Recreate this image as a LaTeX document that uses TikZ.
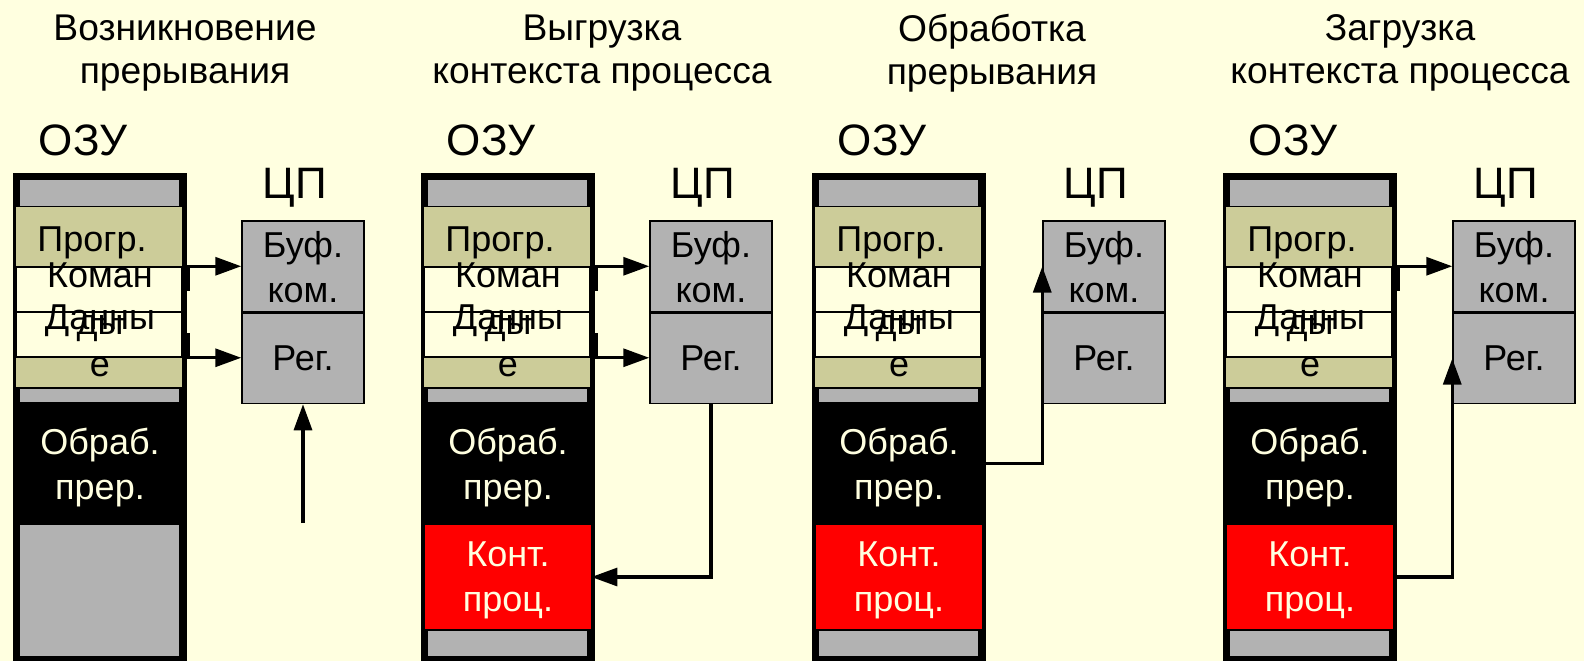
\documentclass[tikz,border=0pt]{standalone}
\usepackage{fontspec}
\setmainfont{Liberation Sans}
\usepackage{tikz}
\usetikzlibrary{positioning,calc,arrows.meta}

\definecolor{paper}{HTML}{FFFFE0}
\definecolor{memgray}{HTML}{B2B2B2}
\definecolor{khaki}{HTML}{CCCC99}

\tikzset{
  txt/.style={font=\fontsize{18}{22.5}\selectfont, align=center, inner sep=0pt, text depth=0pt},
  title/.style={txt, font=\fontsize{18.6}{21.5}\selectfont},
  two/.style={txt, font=\fontsize{18}{23.5}\selectfont},
  big/.style={font=\fontsize{22}{26}\selectfont, inner sep=0pt},
  band/.style={draw, line width=0.75pt, fill=paper, minimum width=83pt, minimum height=22.5pt, inner sep=0pt},
  cpubox/.style={txt, draw, line width=0.75pt, fill=memgray, minimum width=61pt},
  ctxbox/.style={txt, fill=red, text=paper, minimum width=83pt, minimum height=52pt},
  hndbox/.style={txt, fill=black, text=paper, minimum width=87pt, minimum height=61.5pt},
  arr/.style={-{Triangle[length=13pt,width=9pt]}, line width=1.6pt},
}

\begin{document}
\begin{tikzpicture}[x=0.5pt,y=-0.5pt]
    \fill[paper] (0,0) rectangle (1584,661);
    \useasboundingbox (0,0) rectangle (1584,661);

    % Titles
    \node[title] (t1) at (185,49.5) {Возникновение\\прерывания};
    \node[title] (t2) at (602,49.5) {Выгрузка\\контекста процесса};
    \node[title] (t3) at (992,49.5) {Обработка\\прерывания};
    \node[title] (t4) at (1400,49.5) {Загрузка\\контекста процесса};

    % RAM
    \foreach \L/\n in {13/1,421/2,812/3,1223/4}{
        \fill (\L,173) rectangle (\L+174,661);
        \fill[memgray] (\L+7,180) rectangle (\L+166,206);
        \fill[khaki] (\L+3,207) rectangle (\L+169,387);
        \node[band] (cmd\n) at (\L+86,289.5) {};
        \node[band] (dat\n) at (\L+86,334.5) {};
        \fill[memgray] (\L+7,389) rectangle (\L+166,402);
        \fill[memgray] (\L+7,631) rectangle (\L+166,656);
        \node[hndbox] (hnd\n) at (\L+87,463.5) {Обраб.\\прер.};
        \node[txt, anchor=base] (prg\n) at (\L+79,251) {Прогр.};
        \node[two] (cmdt\n) at (\L+87,298.5) {Коман\\ды};
        \node[two] (datt\n) at (\L+87,341) {Данны\\е};
        \node[big, anchor=base] (ram\n) at (\L+70,155) {ОЗУ};
    }
    \fill[memgray] (20,525) rectangle (179,656);
    \foreach \L/\n in {421/2,812/3,1223/4}
        \node[ctxbox] (ctx\n) at (\L+87,577) {Конт.\\проц.};

    % CPU
    \foreach \C/\n in {242/1,650/2,1043/3,1453/4}{
        \node[cpubox, minimum height=45.5pt] (buf\n) at (\C+61,266.5) {Буф.\\ком.};
        \node[cpubox, minimum height=45pt, below=0pt of buf\n] (reg\n) {Рег.};
        \node[big, anchor=base] (cpu\n) at (\C+53,198) {ЦП};
    }

    % Interrupt
    \coordinate (irq) at (303,523);
    \draw[arr] (irq) -- (reg1.south);
    \draw[arr] (cmd1.east) -- ++(6,0) |- (buf1.west |- cmd1.north);
    \draw[arr] (dat1.east) -- ++(6,0) |- (reg1.west |- dat1.south);

    % Save context
    \draw[arr] (cmd2.east) -- ++(6,0) |- (buf2.west |- cmd2.north);
    \draw[arr] (dat2.east) -- ++(6,0) |- (reg2.west |- dat2.south);
    \draw[arr] (reg2.south) |- (ctx2.east);

    % Handler
    \draw[arr] (hnd3.east) -| (buf3.west);

    % Restore context
    \draw[arr] (cmd4.east) -- ++(6,0) |- (buf4.west |- cmd4.north);
    \draw[arr] (ctx4.east) -| (reg4.west);
\end{tikzpicture}
\end{document}
